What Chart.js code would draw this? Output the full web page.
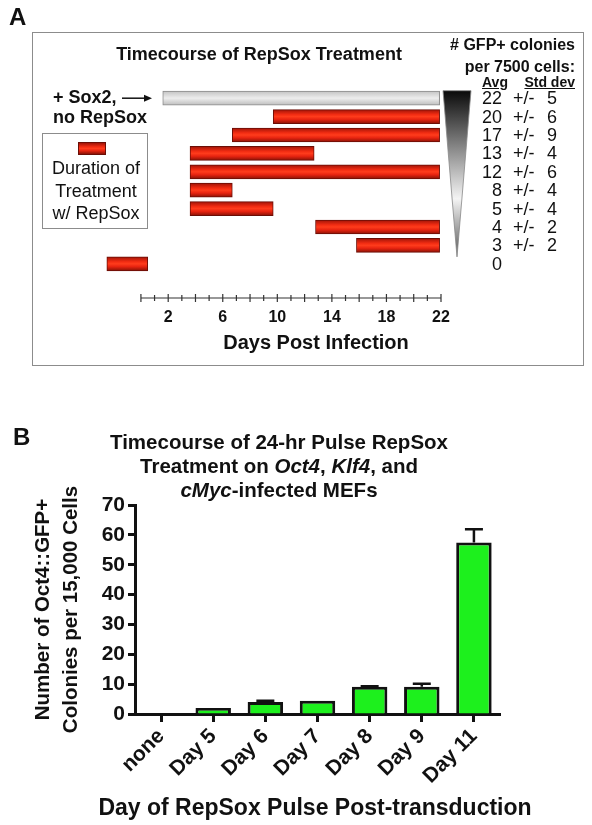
<!DOCTYPE html>
<html>
<head>
<meta charset="utf-8">
<script src="https://cdn.jsdelivr.net/npm/chart.js@4.4.1/dist/chart.umd.min.js"></script>
<style>
body{margin:0;background:#fff;font-family:'Liberation Sans',Arial,Helvetica,sans-serif;color:#111}
#page{position:relative;width:592px;height:825px;overflow:hidden}
canvas{position:absolute;left:0}
.t{position:absolute;white-space:nowrap;line-height:1}
.b{font-weight:bold}
.c{transform:translateX(-50%);text-align:center}
.box{position:absolute;box-sizing:border-box;border:1.5px solid #8c8c8c}
</style>
</head>
<body>
<div id="page">
  <canvas id="timeChart" width="592" height="380" style="top:0"></canvas>
  <canvas id="pulseChart" width="592" height="445" style="top:380px"></canvas>

  <!-- panel A annotations -->
  <div class="t b" style="left:9px;top:5px;font-size:24px">A</div>
  <div class="box" style="left:32px;top:32px;width:552px;height:334px"></div>
  <div class="t b c" style="left:259px;top:45px;font-size:18px">Timecourse of RepSox Treatment</div>
  <div class="t b" style="left:53px;top:88px;font-size:18px">+ Sox2,</div>
  <div class="t b" style="left:53px;top:108px;font-size:18px">no RepSox</div>
  <div class="box" style="left:42px;top:133px;width:106px;height:96px"></div>
  <div style="position:absolute;left:78px;top:142px;width:28px;height:13px;box-sizing:border-box;border:1px solid #6b0e06;background:linear-gradient(#a01408,#f22c12 35%,#ff3c1c 50%,#e82410 70%,#8a1206)"></div>
  <div class="t c" style="left:96px;top:159px;font-size:18px">Duration of</div>
  <div class="t c" style="left:96px;top:182px;font-size:18px">Treatment</div>
  <div class="t c" style="left:96px;top:204px;font-size:18px">w/ RepSox</div>
  <div class="t b" style="right:17px;top:37px;font-size:16px">#&nbsp;GFP+ colonies</div>
  <div class="t b" style="right:17px;top:59px;font-size:16px">per 7500 cells:</div>
  <div class="t b" style="left:482px;top:75px;font-size:14px;text-decoration:underline">Avg</div>
  <div class="t b" style="right:17px;top:75px;font-size:14px;text-decoration:underline">Std dev</div>
  <div class="t b c" style="left:316px;top:332px;font-size:20px">Days Post Infection</div>

  <!-- panel B annotations -->
  <div class="t b" style="left:13px;top:425px;font-size:24px">B</div>
  <div class="t b c" style="left:279px;top:430px;font-size:20.5px;line-height:24px">Timecourse of 24-hr Pulse RepSox<br>Treatment on <i>Oct4</i>, <i>Klf4</i>, and<br><i>cMyc</i>-infected MEFs</div>
  <div class="t b c" style="left:315px;top:796px;font-size:23px">Day of RepSox Pulse Post-transduction</div>
</div>

<script>
const FONT = "'Liberation Sans', Arial, Helvetica, sans-serif";

// Panel A: treatment windows (days post infection) and colony counts
const treatmentRows = ["+Sox2 only", "10-22", "7-22", "4-13", "4-22", "4-7", "4-10", "13-22", "16-22", "-2-0"];
const startDay = [1.6, 9.7, 6.7, 3.6, 3.6, 3.6, 3.6, 12.8, 15.8, -2.5];
const endDay = [21.9, 21.9, 21.9, 12.7, 21.9, 6.7, 9.7, 21.9, 21.9, 0.5];
const avgColonies = [22, 20, 17, 13, 12, 8, 5, 4, 3, 0];
const sdColonies = [5, 6, 9, 4, 6, 4, 4, 2, 2, null];
const dayTickLabels = [2, 6, 10, 14, 18, 22];

// Panel B: 24-hr pulse
const pulseDays = ["none", "Day 5", "Day 6", "Day 7", "Day 8", "Day 9", "Day 11"];
const colonyMean = [0, 2, 4, 4.4, 9.1, 9.1, 57.4];
const colonyErr = [0, 0, 0.4, 0, 0.2, 1, 4.5];
const yTicksB = [0, 10, 20, 30, 40, 50, 60, 70];

Chart.defaults.font.family = FONT;
Chart.defaults.color = "#111";

function barFill(c) {
  const chart = c.chart;
  const ys = chart.scales.y;
  if (!ys || ys.top === undefined) return c.dataIndex === 0 ? "#dcdcdc" : "#e8200c";
  const yc = ys.getPixelForValue(c.dataIndex);
  const g = chart.ctx.createLinearGradient(0, yc - 7, 0, yc + 7);
  if (c.dataIndex === 0) {
    g.addColorStop(0, "#c4c4c4");
    g.addColorStop(0.5, "#ededed");
    g.addColorStop(1, "#bdbdbd");
  } else {
    g.addColorStop(0, "#a01408");
    g.addColorStop(0.35, "#f22c12");
    g.addColorStop(0.5, "#ff3c1c");
    g.addColorStop(0.7, "#e82410");
    g.addColorStop(1, "#8a1206");
  }
  return g;
}

/* day axis, gradient wedge, colony numbers, arrow */
const timeExtras = {
  id: "timeExtras",
  afterDraw(chart) {
    const { ctx, chartArea: a, scales: { x, y } } = chart;
    ctx.save();

    // days axis
    const axisY = a.bottom + 25;
    ctx.strokeStyle = "#333";
    ctx.lineWidth = 1.2;
    ctx.beginPath();
    ctx.moveTo(x.getPixelForValue(0), axisY);
    ctx.lineTo(x.getPixelForValue(22), axisY);
    for (let d = 0; d <= 22; d++) {
      const px = x.getPixelForValue(d);
      const len = d % 2 === 0 ? 4 : 3;
      ctx.moveTo(px, axisY - len);
      ctx.lineTo(px, axisY + len);
    }
    ctx.stroke();
    ctx.fillStyle = "#111";
    ctx.font = "bold 16px " + FONT;
    ctx.textAlign = "center";
    ctx.textBaseline = "middle";
    dayTickLabels.forEach(d => ctx.fillText(String(d), x.getPixelForValue(d), axisY + 20));

    // gradient wedge
    const top = y.getPixelForValue(0) - 7.5;
    const bot = y.getPixelForValue(8) + 11.5;
    const wl = a.right + 2, wr = a.right + 30, wm = (wl + wr) / 2;
    const g = ctx.createLinearGradient(0, top, 0, bot);
    g.addColorStop(0, "#0a0a0a");
    g.addColorStop(0.35, "#8a8a8a");
    g.addColorStop(0.65, "#f4f4f4");
    g.addColorStop(1, "#555");
    ctx.beginPath();
    ctx.moveTo(wl, top);
    ctx.lineTo(wr, top);
    ctx.lineTo(wm, bot);
    ctx.closePath();
    ctx.fillStyle = g;
    ctx.fill();
    ctx.strokeStyle = "#888";
    ctx.lineWidth = 0.8;
    ctx.stroke();

    // colony counts
    ctx.fillStyle = "#111";
    ctx.font = "18px " + FONT;
    avgColonies.forEach((v, i) => {
      const py = y.getPixelForValue(i) + 1;
      ctx.textAlign = "right";
      ctx.fillText(String(v), a.right + 61, py);
      if (sdColonies[i] !== null) {
        ctx.textAlign = "left";
        ctx.fillText("+/-", a.right + 72, py);
        ctx.fillText(String(sdColonies[i]), a.right + 106, py);
      }
    });

    // arrow from "+ Sox2," to the grey bar
    const ay = y.getPixelForValue(0);
    ctx.strokeStyle = "#111";
    ctx.lineWidth = 1.5;
    ctx.beginPath();
    ctx.moveTo(a.left + 22, ay);
    ctx.lineTo(a.left + 46, ay);
    ctx.stroke();
    ctx.beginPath();
    ctx.moveTo(a.left + 52, ay);
    ctx.lineTo(a.left + 44, ay - 3.5);
    ctx.lineTo(a.left + 44, ay + 3.5);
    ctx.closePath();
    ctx.fillStyle = "#111";
    ctx.fill();
    ctx.restore();
  }
};

new Chart(document.getElementById("timeChart"), {
  type: "bar",
  data: {
    labels: treatmentRows,
    datasets: [{
      data: startDay.map((s, i) => [s, endDay[i]]),
      backgroundColor: barFill,
      borderColor: c => c.dataIndex === 0 ? "#8a8a8a" : "#6b0e06",
      borderWidth: 1,
      borderSkipped: false,
      barThickness: 14
    }]
  },
  options: {
    indexAxis: "y",
    responsive: false,
    animation: false,
    layout: { padding: { left: 100, right: 151, top: 89, bottom: 107 } },
    scales: {
      x: { type: "linear", min: -3, max: 22, display: false },
      y: { display: false }
    },
    plugins: { legend: { display: false }, tooltip: { enabled: false } }
  },
  plugins: [timeExtras]
});

/* error bars for panel B */
const errorBars = {
  id: "errorBars",
  afterDatasetsDraw(chart) {
    const { ctx, scales: { y } } = chart;
    const meta = chart.getDatasetMeta(0);
    ctx.save();
    ctx.strokeStyle = "#111";
    ctx.lineWidth = 2.5;
    meta.data.forEach((bar, i) => {
      if (!colonyErr[i]) return;
      const y0 = y.getPixelForValue(colonyMean[i]);
      const y1 = y.getPixelForValue(colonyMean[i] + colonyErr[i]);
      ctx.beginPath();
      ctx.moveTo(bar.x, y0);
      ctx.lineTo(bar.x, y1);
      ctx.moveTo(bar.x - 9, y1);
      ctx.lineTo(bar.x + 9, y1);
      ctx.stroke();
    });
    ctx.restore();
  }
};

new Chart(document.getElementById("pulseChart"), {
  type: "bar",
  data: {
    labels: pulseDays,
    datasets: [{
      data: colonyMean,
      backgroundColor: "#1df01d",
      borderColor: "#111",
      borderWidth: 3,
      categoryPercentage: 1,
      barPercentage: 0.68
    }]
  },
  options: {
    responsive: false,
    animation: false,
    layout: { padding: { left: 0, right: 92, top: 125, bottom: 0 } },
    scales: {
      x: {
        ticks: { color: "#111", font: { size: 21, weight: "bold" }, maxRotation: 45, minRotation: 45, padding: 2 },
        grid: { drawOnChartArea: false, offset: false, tickLength: 8, tickWidth: 3, color: "#111" },
        border: { color: "#111", width: 3 },
        afterFit(s) { s.height = 111; }
      },
      y: {
        min: 0,
        max: 70,
        afterBuildTicks(s) { s.ticks = yTicksB.map(v => ({ value: v })); },
        ticks: { color: "#111", font: { size: 21, weight: "bold" }, padding: 3 },
        grid: { drawOnChartArea: false, tickLength: 7, tickWidth: 3, color: "#111" },
        border: { color: "#111", width: 3 },
        title: {
          display: true,
          text: ["Number of Oct4::GFP+", "Colonies per 15,000 Cells"],
          color: "#111",
          font: { size: 20.5, weight: "bold", lineHeight: 1.35 },
          padding: { top: 30, bottom: 0 }
        },
        afterFit(s) { s.width = 135; }
      }
    },
    plugins: { legend: { display: false }, tooltip: { enabled: false } }
  },
  plugins: [errorBars]
});
</script>
</body>
</html>
